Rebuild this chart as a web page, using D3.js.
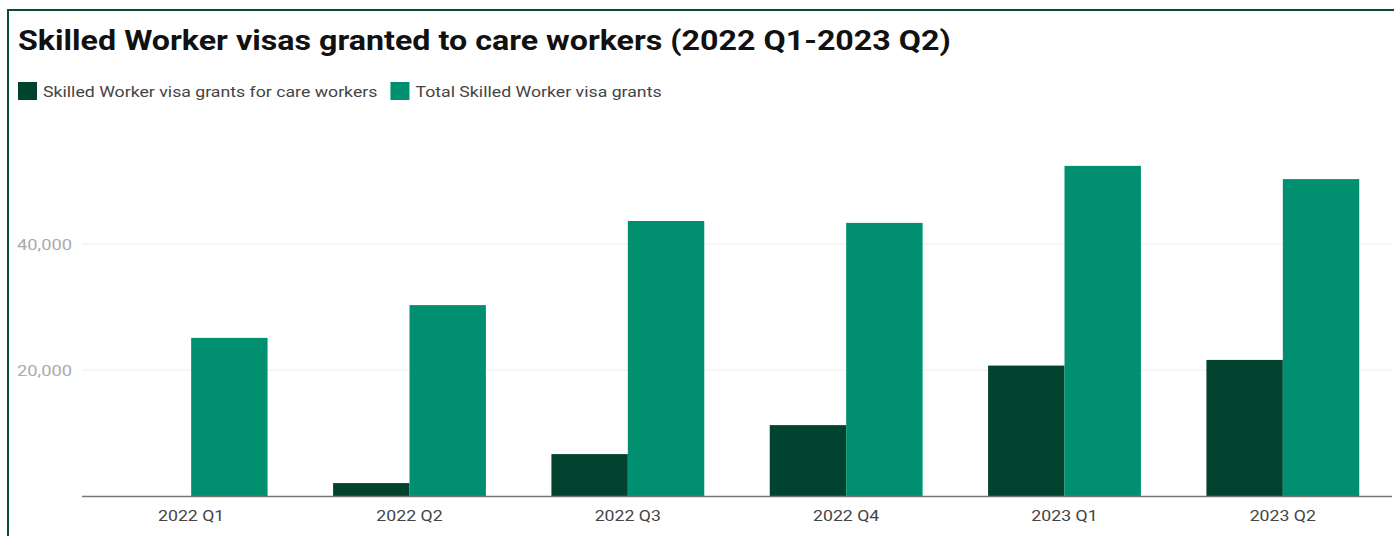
<!DOCTYPE html>
<html>
<head>
<meta charset="utf-8">
<script src="https://cdn.jsdelivr.net/npm/d3@7"></script>
<style>
    html, body { margin: 0; padding: 0; background: #fff; }
    svg { display: block; font-family: Roboto, "Noto Sans", sans-serif; }
</style>
</head>
<body>
<svg id="chart" width="1394" height="536"></svg>
<script>
// Chart data
const quarters = ['2022 Q1', '2022 Q2', '2022 Q3', '2022 Q4', '2023 Q1', '2023 Q2'];
const careWorkerGrants = [0, 2050, 6650, 11250, 20700, 21600];
const totalGrants = [25100, 30300, 43650, 43350, 52400, 50300];
const seriesNames = ['Skilled Worker visa grants for care workers', 'Total Skilled Worker visa grants'];
const seriesColors = ['#01432f', '#00906f'];
const yTicks = [20000, 40000];

(function() {
    const svg = d3.select('#chart');
    const width = 1394;
    // the reference text is a bit wider than plain Roboto
    const stretch = 1.18;

    function widen(sel) {
        sel.each(function() {
            const w = this.getComputedTextLength();
            this.__width = w * stretch;
            d3.select(this)
                .attr('textLength', w * stretch)
                .attr('lengthAdjust', 'spacingAndGlyphs');
        });
    }

    // Frame lines (top and left)
    svg.append('rect')
        .attr('x', 8).attr('y', 10)
        .attr('width', width).attr('height', 600)
        .attr('fill', 'none')
        .attr('stroke', '#0c4a36')
        .attr('stroke-width', 2);

    // Title
    svg.append('text')
        .attr('x', 18)
        .attr('y', 50)
        .attr('font-size', 27.3)
        .attr('font-weight', 'bold')
        .attr('fill', '#111')
        .text('Skilled Worker visas granted to care workers (2022 Q1-2023 Q2)')
        .call(widen);

    // Legend
    const legend = svg.append('g').attr('class', 'legend');
    let lx = 18;
    seriesNames.forEach((name, i) => {
        legend.append('rect')
            .attr('x', lx).attr('y', 82)
            .attr('width', 19).attr('height', 18)
            .attr('fill', seriesColors[i]);
        const t = legend.append('text')
            .attr('x', lx + 25)
            .attr('y', 97)
            .attr('font-size', 15)
            .attr('fill', '#444')
            .text(name)
            .call(widen);
        lx += 25 + t.node().__width + 13;
    });

    // Scales
    const x = d3.scaleBand()
        .domain(quarters)
        .range([82, 1392])
        .paddingInner(0.3)
        .paddingOuter(0.15);

    const xInner = d3.scaleBand()
        .domain([0, 1])
        .range([0, x.bandwidth()]);

    const y = d3.scaleLinear()
        .domain([0, 60000])
        .range([496, 118]);

    // Gridlines
    svg.append('g')
        .selectAll('line')
        .data(yTicks)
        .join('line')
        .attr('x1', 82).attr('x2', 1392)
        .attr('y1', d => y(d)).attr('y2', d => y(d))
        .attr('stroke', '#ececec')
        .attr('stroke-width', 1);

    // Y axis labels
    svg.append('g')
        .selectAll('text')
        .data(yTicks)
        .join('text')
        .attr('x', 72)
        .attr('y', d => y(d) + 5.5)
        .attr('text-anchor', 'end')
        .attr('font-size', 15.5)
        .attr('fill', '#aaa')
        .text(d => d3.format(',')(d))
        .call(widen);

    // Bars
    const series = [careWorkerGrants, totalGrants];
    const groups = svg.append('g')
        .selectAll('g')
        .data(quarters)
        .join('g')
        .attr('transform', d => `translate(${x(d)},0)`);

    groups.selectAll('rect')
        .data((d, i) => series.map((s, k) => ({ k, v: s[i] })))
        .join('rect')
        .attr('x', d => xInner(d.k))
        .attr('width', xInner.bandwidth())
        .attr('y', d => y(d.v))
        .attr('height', d => y(0) - y(d.v))
        .attr('fill', d => seriesColors[d.k]);

    // Baseline
    svg.append('line')
        .attr('x1', 82).attr('x2', 1392)
        .attr('y1', y(0) + 0.5).attr('y2', y(0) + 0.5)
        .attr('stroke', '#777')
        .attr('stroke-width', 1.5);

    // X axis labels
    svg.append('g')
        .selectAll('text')
        .data(quarters)
        .join('text')
        .attr('x', d => x(d) + x.bandwidth() / 2)
        .attr('y', 521)
        .attr('text-anchor', 'middle')
        .attr('font-size', 15)
        .attr('fill', '#444')
        .text(d => d)
        .call(widen);
})();
</script>
</body>
</html>
